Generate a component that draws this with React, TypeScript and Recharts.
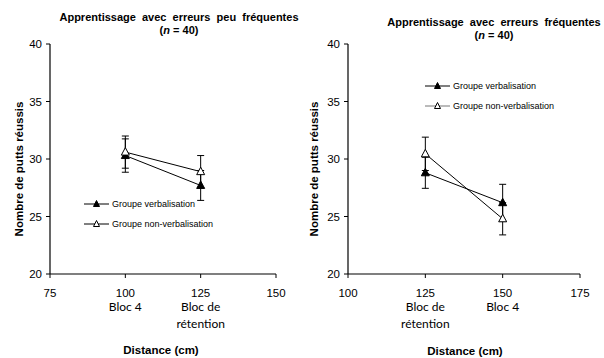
import React from 'react';
import { ComposedChart, Line, XAxis, YAxis, ErrorBar, Legend } from 'recharts';

// ---- Data ----
const seriesNames = ['Groupe verbalisation', 'Groupe non-verbalisation'];

const leftDistances = [100, 125];
const leftBlocLabels = [['Bloc 4'], ['Bloc de', 'rétention']];
const leftVerbal = [30.3, 27.7];
const leftVerbalErr = [1.45, 1.3];
const leftNonVerbal = [30.6, 28.9];
const leftNonVerbalErr = [1.4, 1.4];
const leftXTicks = [75, 100, 125, 150];

const rightDistances = [125, 150];
const rightBlocLabels = [['Bloc de', 'rétention'], ['Bloc 4']];
const rightVerbal = [28.8, 26.2];
const rightVerbalErr = [1.35, 1.6];
const rightNonVerbal = [30.45, 24.8];
const rightNonVerbalErr = [1.45, 1.4];
const rightXTicks = [100, 125, 150, 175];

const yTicks = [20, 25, 30, 35, 40];

const leftTitle = 'Apprentissage  avec  erreurs  peu  fréquentes';
const rightTitle = 'Apprentissage  avec  erreurs  fréquentes';
const yLabel = 'Nombre de putts réussis';
const xLabel = 'Distance (cm)';

const build = (d: number[], v: number[], ve: number[], n: number[], ne: number[]) =>
  d.map((x, i) => ({ d: x, v: v[i], vErr: ve[i], n: n[i], nErr: ne[i] }));

const leftData = build(leftDistances, leftVerbal, leftVerbalErr, leftNonVerbal, leftNonVerbalErr);
const rightData = build(rightDistances, rightVerbal, rightVerbalErr, rightNonVerbal, rightNonVerbalErr);

const SANS = 'Liberation Sans, Arial, sans-serif';

const triangleDot = (fill: string) => (props: any) => {
  const { cx, cy, index } = props;
  if (cx == null || cy == null) return <g key={`e${index}`} />;
  const pts = `${cx},${cy - 4.5} ${cx - 4},${cy + 3} ${cx + 4},${cy + 3}`;
  return <polygon key={`t${index}`} points={pts} fill={fill} stroke="#000" strokeWidth={1} />;
};

const makeXTick = (distances: number[], blocs: string[][]) => (props: any) => {
  const { x, y, payload } = props;
  const idx = distances.indexOf(payload.value);
  const lines = idx >= 0 ? blocs[idx] : [];
  return (
    <g>
      <text x={x} y={y + 17} textAnchor="middle" fontFamily={SANS} fontSize={11.5} fill="#000">
        {payload.value}
      </text>
      {lines.map((l, i) => (
        <text key={i} x={x} y={y + 31 + i * 16.7} textAnchor="middle" fontFamily="Lato, sans-serif" fontSize={12} fill="#000">
          {l}
        </text>
      ))}
    </g>
  );
};

const makeLegend = (secondColor: string) => (props: any) => {
  const payload = [...(props.payload || [])].sort(
    (a: any, b: any) => seriesNames.indexOf(a.value) - seriesNames.indexOf(b.value)
  );
  return (
    <div style={{ fontFamily: SANS, fontSize: 9, color: '#000' }}>
      {payload.map((entry: any, i: number) => (
        <div key={i} style={{ display: 'flex', alignItems: 'center', height: 10, marginBottom: i === 0 ? 10 : 0 }}>
          <svg width={26} height={10} style={{ display: 'block' }}>
            <line x1={0} y1={5} x2={25} y2={5} stroke={i === 0 ? '#000' : secondColor} strokeWidth={1} />
            <polygon points="12.5,1.5 9.5,7.5 15.5,7.5" fill={i === 0 ? '#000' : '#fff'} stroke="#000" strokeWidth={1} />
          </svg>
          <span style={{ marginLeft: 2, whiteSpace: 'pre', lineHeight: '10px' }}>{entry.value}</span>
        </div>
      ))}
    </div>
  );
};

const Panel = ({ data, xDomain, xTicks, distances, blocs, marginLeft, width, legendPos, legendSecond }: any) => (
  <ComposedChart width={width} height={358} data={data} margin={{ top: 44, right: 24, bottom: 24, left: marginLeft }}>
    <XAxis
      type="number"
      dataKey="d"
      domain={xDomain}
      ticks={xTicks}
      interval={0}
      allowDataOverflow
      height={60}
      tickSize={4}
      tickMargin={2}
      axisLine={{ stroke: '#000', strokeWidth: 1.2 }}
      tickLine={{ stroke: '#000' }}
      tick={makeXTick(distances, blocs)}
    />
    <YAxis
      type="number"
      domain={[20, 40]}
      ticks={yTicks}
      interval={0}
      width={30}
      tickSize={4}
      tickMargin={4}
      axisLine={{ stroke: '#000', strokeWidth: 1.2 }}
      tickLine={{ stroke: '#000' }}
      tick={{ fill: '#000', fontSize: 11.5, fontFamily: SANS }}
    />
    <Legend
      layout="vertical"
      align="center"
      verticalAlign="middle"
      wrapperStyle={{ left: legendPos[0], top: legendPos[1], width: 'auto' }}
      content={makeLegend(legendSecond)}
    />
    <Line
      name={seriesNames[0]}
      dataKey="v"
      stroke="#000"
      strokeWidth={1}
      dot={triangleDot('#000')}
      activeDot={false}
      isAnimationActive={false}
    >
      <ErrorBar dataKey="vErr" width={3.5} stroke="#000" strokeWidth={1} direction="y" />
    </Line>
    <Line
      name={seriesNames[1]}
      dataKey="n"
      stroke="#000"
      strokeWidth={1}
      dot={triangleDot('#fff')}
      activeDot={false}
      isAnimationActive={false}
    >
      <ErrorBar dataKey="nErr" width={3.5} stroke="#000" strokeWidth={1} direction="y" />
    </Line>
  </ComposedChart>
);

export default function App() {
  return (
    <div style={{ position: 'absolute', left: 0, top: 0, width: 604, height: 358, background: '#fff', overflow: 'hidden' }}>
      <div style={{ position: 'absolute', left: 0, top: 0 }}>
        <Panel
          data={leftData}
          xDomain={[75, 150]}
          xTicks={leftXTicks}
          distances={leftDistances}
          blocs={leftBlocLabels}
          marginLeft={20}
          width={300}
          legendPos={[84, 199]}
          legendSecond="#000"
        />
      </div>
      <div style={{ position: 'absolute', left: 300, top: 0 }}>
        <Panel
          data={rightData}
          xDomain={[100, 175]}
          xTicks={rightXTicks}
          distances={rightDistances}
          blocs={rightBlocLabels}
          marginLeft={18}
          width={304}
          legendPos={[125, 81]}
          legendSecond="#777"
        />
      </div>
      <svg width={604} height={358} style={{ position: 'absolute', left: 0, top: 0, pointerEvents: 'none' }}>
        <g fontFamily={SANS} fontWeight="bold" fill="#000">
          <text x={179} y={21} textAnchor="middle" fontSize={11} style={{ whiteSpace: 'pre' }}>{leftTitle}</text>
          <text x={179} y={33.5} textAnchor="middle" fontSize={11}>
            (<tspan fontStyle="italic">n</tspan> = 40)
          </text>
          <text x={494} y={26} textAnchor="middle" fontSize={11} style={{ whiteSpace: 'pre' }}>{rightTitle}</text>
          <text x={494} y={38.5} textAnchor="middle" fontSize={11}>
            (<tspan fontStyle="italic">n</tspan> = 40)
          </text>
          <text x={23} y={169} textAnchor="middle" fontSize={11.5} transform="rotate(-90 23 169)">{yLabel}</text>
          <text x={318} y={169} textAnchor="middle" fontSize={11.5} transform="rotate(-90 318 169)">{yLabel}</text>
          <text x={161} y={354} textAnchor="middle" fontSize={11.5}>{xLabel}</text>
          <text x={465} y={355} textAnchor="middle" fontSize={11.5}>{xLabel}</text>
        </g>
      </svg>
    </div>
  );
}
